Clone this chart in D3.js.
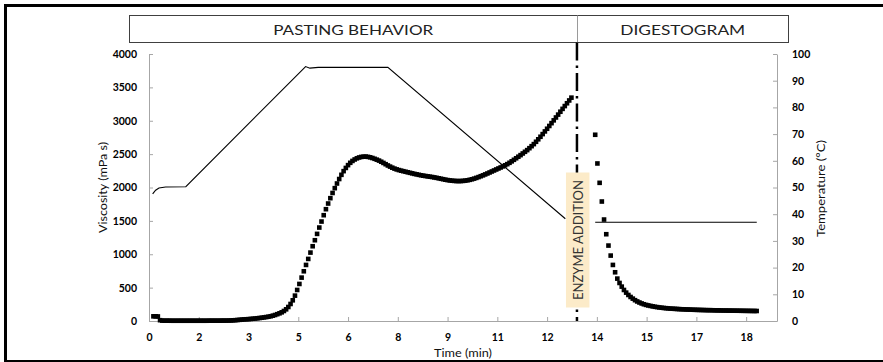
<!DOCTYPE html>
<html>
<head>
<meta charset="utf-8">
<script src="https://cdn.jsdelivr.net/npm/d3@7"></script>
<style>
  body { margin: 0; background: #fff; }
  svg { display: block; }
</style>
</head>
<body>
<svg id="chart" width="883" height="362"></svg>
<script>
// ---- Data -------------------------------------------------------------
// Pasting run: viscosity logged every 4 s (time in seconds)
const pastingSec = [
  8,12,16,20,24,28,32,36,40,44,48,52,56,
  60,64,68,72,76,80,84,88,92,96,100,104,108,112,116,
  120,124,128,132,136,140,144,148,152,156,160,164,168,172,176,
  180,184,188,192,196,200,204,208,212,216,220,224,228,232,236,
  240,244,248,252,256,260,264,268,272,276,280,284,288,292,296,
  300,304,308,312,316,320,324,328,332,336,340,344,348,352,356,
  360,364,368,372,376,380,384,388,392,396,400,404,408,412,416,
  420,424,428,432,436,440,444,448,452,456,460,464,468,472,476,
  480,484,488,492,496,500,504,508,512,516,520,524,528,532,536,
  540,544,548,552,556,560,564,568,572,576,580,584,588,592,596,
  600,604,608,612,616,620,624,628,632,636,640,644,648,652,656,
  660,664,668,672,676,680,684,688,692,696,700,704,708,712,716,
  720,724,728,732,736,740,744,748,752,756,760,764
];
const pastingVisc = [
  70,70,68,12,6,5,5,5,4,4,4,4,4,
  4,4,4,4,4,4,4,4,4,4,4,4,5,5,5,
  5,5,5,6,6,6,7,8,10,12,15,18,21,24,26,
  28,31,34,37,41,45,49,54,59,64,71,80,90,102,115,
  130,150,175,210,255,310,380,465,555,650,745,840,930,1025,1120,
  1210,1305,1400,1490,1585,1675,1760,1840,1918,1990,2060,2127,2190,2245,2293,
  2335,2370,2398,2420,2437,2450,2458,2462,2463,2459,2452,2442,2430,2417,2403,
  2386,2368,2349,2330,2313,2297,2283,2271,2261,2252,2244,2236,2228,2220,2212,
  2204,2197,2190,2183,2177,2172,2167,2162,2157,2151,2145,2138,2131,2124,2117,
  2111,2106,2102,2099,2097,2096,2097,2099,2103,2108,2115,2123,2133,2144,2156,
  2169,2182,2196,2210,2225,2240,2255,2270,2285,2300,2316,2333,2350,2370,2392,
  2415,2438,2461,2485,2510,2535,2560,2589,2619,2650,2685,2722,2760,2800,2840,
  2880,2922,2964,3006,3049,3092,3135,3178,3220,3262,3304,3346
];

// Digestion run after the enzyme is added
const digestSec = [
  807,811,815,819,823,827,831,835,839,843,847,851,855,859,863,867,871,875,879,883,887,891,895,899,
  903,907,911,915,919,923,927,931,935,939,943,947,951,955,959,
  963,967,971,975,979,983,987,991,995,999,1003,1007,1011,1015,1019,
  1023,1027,1031,1035,1039,1043,1047,1051,1055,1059,1063,1067,1071,1075,1079,
  1083,1087,1091,1095,1099
];
const digestVisc = [
  2790,2360,2070,1790,1520,1300,1130,980,840,730,635,570,515,465,425,390,360,335,312,293,277,263,251,241,
  233,226,219,213,208,203,199,195,192,189,186,184,182,180,178,
  176,175,173,172,171,169,168,167,166,165,164,163,162,162,161,
  160,159,159,158,157,157,156,156,155,155,154,154,153,153,152,
  152,151,151,150,150
];

// Temperature profile (min, °C)
const tempPasteMin = [0.11, 0.20, 0.30, 0.50, 1.11, 4.72, 4.85, 5.10, 7.20, 12.55];
const tempPasteC   = [47.6, 49.0, 49.8, 50.2, 50.3, 95.3, 94.7, 95.0, 95.0, 38.3];
const tempDigestMin = [13.45, 18.32];
const tempDigestC   = [37.0, 37.0];

const enzymeMin = 12.9;

// Axis ticks
const xTickValues = [0, 1.5, 3, 4.5, 6, 7.5, 9, 10.5, 12, 13.5, 15, 16.5, 18];
const xTickLabels = ["0", "2", "3", "5", "6", "8", "9", "11", "12", "14", "15", "17", "18"];
const viscTicks = [0, 500, 1000, 1500, 2000, 2500, 3000, 3500, 4000];
const tempTicks = [0, 10, 20, 30, 40, 50, 60, 70, 80, 90, 100];

// ---- Layout -----------------------------------------------------------
const FONT = "Lato, 'DejaVu Sans', sans-serif";
const plot = { left: 149, right: 777, top: 54, bottom: 321 };
const axisGrey = "#a6a6a6";

const svg = d3.select("#chart");

const x  = d3.scaleLinear().domain([0, 18.93]).range([plot.left, plot.right]);
const yV = d3.scaleLinear().domain([0, 4000]).range([plot.bottom, plot.top]);
const yT = d3.scaleLinear().domain([0, 100]).range([plot.bottom, plot.top]);

// outer frame
svg.append("rect")
  .attr("x", 5.5).attr("y", 5.5).attr("width", 900).attr("height", 356)
  .attr("fill", "none").attr("stroke", "#000").attr("stroke-width", 3);

// section header boxes
const xEnz = x(enzymeMin);
const headTop = 15.5, headBottom = 42.5;
const headLeft = 129.5, headRight = 788.5;
svg.append("rect")
  .attr("x", headLeft).attr("y", headTop)
  .attr("width", headRight - headLeft).attr("height", headBottom - headTop)
  .attr("fill", "#fff").attr("stroke", "#404040").attr("stroke-width", 1);
svg.append("line")
  .attr("x1", Math.round(xEnz) + 0.5).attr("x2", Math.round(xEnz) + 0.5)
  .attr("y1", headTop).attr("y2", headBottom)
  .attr("stroke", "#9a9a9a").attr("stroke-width", 1);

svg.append("text")
  .attr("x", (headLeft + xEnz) / 2).attr("y", 35)
  .attr("text-anchor", "middle")
  .attr("textLength", 160).attr("lengthAdjust", "spacingAndGlyphs")
  .style("font-family", FONT).style("font-size", "14px").attr("fill", "#222")
  .text("PASTING BEHAVIOR");
svg.append("text")
  .attr("x", (xEnz + headRight) / 2).attr("y", 35)
  .attr("text-anchor", "middle")
  .attr("textLength", 125).attr("lengthAdjust", "spacingAndGlyphs")
  .style("font-family", FONT).style("font-size", "14px").attr("fill", "#222")
  .text("DIGESTOGRAM");

// ---- Axes -------------------------------------------------------------
function styleAxis(g) {
  g.select(".domain").attr("stroke", axisGrey);
  g.selectAll(".tick line").attr("stroke", axisGrey);
  g.selectAll(".tick text")
    .attr("fill", "#000")
    .style("font-family", FONT).style("font-size", "10.5px").style("font-weight", "700");
}

svg.append("g")
  .attr("transform", `translate(${plot.left},0)`)
  .call(d3.axisLeft(yV).tickValues(viscTicks).tickFormat(d3.format("d"))
        .tickSize(-4).tickSizeOuter(0).tickPadding(12))
  .call(styleAxis);

svg.append("g")
  .attr("transform", `translate(${plot.right},0)`)
  .call(d3.axisRight(yT).tickValues(tempTicks).tickFormat(d3.format("d"))
        .tickSize(-4).tickSizeOuter(0).tickPadding(15))
  .call(styleAxis);

svg.append("g")
  .attr("transform", `translate(0,${plot.bottom})`)
  .call(d3.axisBottom(x).tickValues(xTickValues).tickFormat((d, i) => xTickLabels[i])
        .tickSize(-4).tickSizeOuter(0).tickPadding(12.5))
  .call(styleAxis);

// axis titles
svg.append("text")
  .attr("transform", `translate(107,${(plot.top + plot.bottom) / 2}) rotate(-90)`)
  .attr("text-anchor", "middle")
  .attr("textLength", 91).attr("lengthAdjust", "spacingAndGlyphs")
  .style("font-family", FONT).style("font-size", "11px").attr("fill", "#111")
  .text("Viscosity (mPa s)");
svg.append("text")
  .attr("transform", `translate(825,${(plot.top + plot.bottom) / 2 + 1}) rotate(-90)`)
  .attr("text-anchor", "middle")
  .attr("textLength", 97).attr("lengthAdjust", "spacingAndGlyphs")
  .style("font-family", FONT).style("font-size", "11px").attr("fill", "#111")
  .text("Temperature (°C)");
svg.append("text")
  .attr("x", (plot.left + plot.right) / 2).attr("y", 356.5)
  .attr("text-anchor", "middle")
  .attr("textLength", 58).attr("lengthAdjust", "spacingAndGlyphs")
  .style("font-family", FONT).style("font-size", "11px").attr("fill", "#111")
  .text("Time (min)");

// ---- Enzyme addition marker -------------------------------------------
svg.append("line")
  .attr("x1", xEnz).attr("x2", xEnz)
  .attr("y1", headBottom).attr("y2", plot.bottom)
  .attr("stroke", "#000").attr("stroke-width", 2.5)
  .attr("stroke-dasharray", "18,5,2.5,5");

// ---- Temperature lines ------------------------------------------------
const tLine = d3.line().x(d => x(d[0])).y(d => yT(d[1]));
svg.append("path")
  .datum(tempPasteMin.map((t, i) => [t, tempPasteC[i]]))
  .attr("d", tLine).attr("fill", "none").attr("stroke", "#000").attr("stroke-width", 1.1);
svg.append("path")
  .datum(tempDigestMin.map((t, i) => [t, tempDigestC[i]]))
  .attr("d", tLine).attr("fill", "none").attr("stroke", "#000").attr("stroke-width", 1.1);

// ---- Viscosity markers ------------------------------------------------
const M = 4.6;
const viscPoints = pastingSec.map((s, i) => [s / 60, pastingVisc[i]])
  .concat(digestSec.map((s, i) => [s / 60, digestVisc[i]]));
svg.append("g").selectAll("rect")
  .data(viscPoints).join("rect")
  .attr("x", d => x(d[0]) - M / 2).attr("y", d => yV(d[1]) - M / 2)
  .attr("width", M).attr("height", M).attr("fill", "#000");

// label box drawn over the dash-dot line
const boxTop = 172.5, boxBottom = 307.5;
svg.append("rect")
  .attr("x", xEnz - 11).attr("y", boxTop)
  .attr("width", 23.5).attr("height", boxBottom - boxTop)
  .attr("fill", "#fcebc9");
svg.append("text")
  .attr("transform", `translate(${xEnz + 6},${(boxTop + boxBottom) / 2}) rotate(-90)`)
  .attr("text-anchor", "middle")
  .attr("textLength", 120).attr("lengthAdjust", "spacingAndGlyphs")
  .style("font-family", FONT).style("font-size", "13.5px").attr("fill", "#333")
  .text("ENZYME ADDITION");
</script>
</body>
</html>
